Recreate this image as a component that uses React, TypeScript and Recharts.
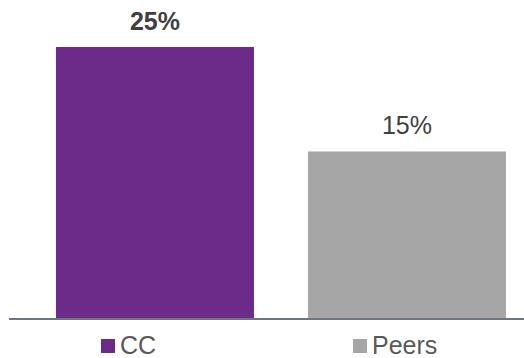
import { BarChart, Bar, XAxis, YAxis, Cell, LabelList } from "recharts";

const categories = ["CC", "Peers"];
const values = [25, 15.4];
const colors = ["#6C2B89", "#A6A6A6"];

const data = categories.map((name, i) => ({ name, value: values[i], color: colors[i] }));

const FONT = "'Liberation Sans', Arial, sans-serif";

function ValueLabel(props: any) {
  const { x, y, width, value, index } = props;
  return (
    <text
      x={x + width / 2}
      y={y - 17}
      textAnchor="middle"
      fontFamily={FONT}
      fontSize={25}
      fontWeight={index === 0 ? "bold" : "normal"}
      fill="#404040"
    >
      {Math.round(value)}%
    </text>
  );
}

function CategoryTick(props: any) {
  const { x, y, payload, index } = props;
  const left = x - 54;
  return (
    <g>
      <rect x={left} y={y + 12} width={14} height={14} fill={colors[index]} />
      <text x={left + 19} y={y + 27} fontFamily={FONT} fontSize={25} fill="#595959">
        {payload.value}
      </text>
    </g>
  );
}

export default function App() {
  return (
    <div style={{ width: 524, height: 358, background: "#fff" }}>
      <style>{`body { margin: 0; }`}</style>
      <BarChart
        width={524}
        height={358}
        data={data}
        margin={{ top: 47, right: 0, bottom: 0, left: 9 }}
        barCategoryGap="10.7%"
      >
        <XAxis
          dataKey="name"
          height={39}
          padding={{ left: 20, right: -9 }}
          axisLine={{ stroke: "#6B7585", strokeWidth: 2 }}
          tickLine={false}
          tick={<CategoryTick />}
          interval={0}
        />
        <YAxis hide domain={[0, 25]} />
        <Bar dataKey="value" isAnimationActive={false}>
          {data.map((d, i) => (
            <Cell key={`c-${i}`} fill={d.color} />
          ))}
          <LabelList dataKey="value" content={<ValueLabel />} />
        </Bar>
      </BarChart>
    </div>
  );
}
